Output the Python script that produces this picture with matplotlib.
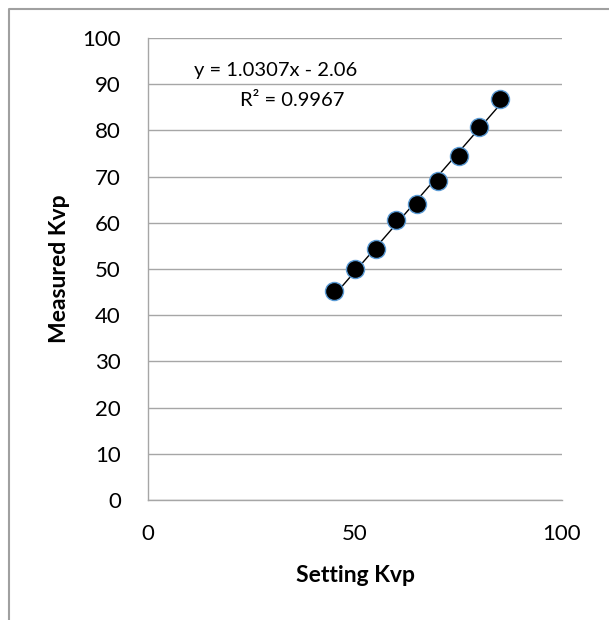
import numpy as np
import matplotlib
matplotlib.use("Agg")
import matplotlib.pyplot as plt
from matplotlib.lines import Line2D

plt.rcParams['font.family'] = ['Lato', 'DejaVu Sans']

# kVp calibration readings
setting_kvp = [45, 50, 55, 60, 65, 70, 75, 80, 85]
measured_kvp = [45.2, 49.9, 54.3, 60.5, 64.0, 69.0, 74.5, 80.8, 86.8]

# linear trendline
slope = 1.0307
intercept = -2.06
r_squared = 0.9967

x_ticks = [0, 50, 100]
y_ticks = list(range(0, 101, 10))

fig = plt.figure(figsize=(6.09, 6.20), dpi=100)
ax = fig.add_axes([148/609, 1 - 500/620, 414/609, 462/620])

grid_col = '#A6A6A6'
ax.set_xlim(0, 100)
ax.set_ylim(0, 100)
ax.set_xticks(x_ticks)
ax.set_yticks(y_ticks)
ax.yaxis.grid(True, color=grid_col, lw=1.0)
ax.set_axisbelow(True)
ax.tick_params(length=0, labelsize=16)
ax.tick_params(axis='y', pad=19.5)
ax.tick_params(axis='x', pad=17)
for s in ['top', 'right']:
    ax.spines[s].set_visible(False)
for s in ['left', 'bottom']:
    ax.spines[s].set_color(grid_col)
    ax.spines[s].set_linewidth(1.0)

tx = np.array([setting_kvp[0], setting_kvp[-1]])
ax.plot(tx, slope * tx + intercept, color='black', lw=1.0, zorder=2)
ax.plot(setting_kvp, measured_kvp, 'o', ms=13, color='black',
        mec='#5B9BD5', mew=1.0, zorder=3, clip_on=False)

ax.text(0.309, 0.929, 'y = 1.0307x - 2.06', transform=ax.transAxes,
        ha='center', va='center', fontsize=14.5)
ax.text(0.348, 0.864, 'R\u00b2 = %.4f' % r_squared, transform=ax.transAxes,
        ha='center', va='center', fontsize=14.5)

ax.set_xlabel('Setting Kvp', fontsize=16.5, fontweight='bold')
ax.set_ylabel('Measured Kvp', fontsize=16.5, fontweight='bold')
ax.xaxis.set_label_coords(0.5, -0.141)
ax.yaxis.set_label_coords(-0.188, 0.5)

# chart frame (left and top edges only)
fx = 8.5 / 609
fy = 1 - 8.5 / 620
fig.add_artist(Line2D([fx, fx, 1], [0, fy, fy], transform=fig.transFigure,
                      color='#A0A0A0', lw=1.5))

fig.savefig('out.png', dpi=100)
